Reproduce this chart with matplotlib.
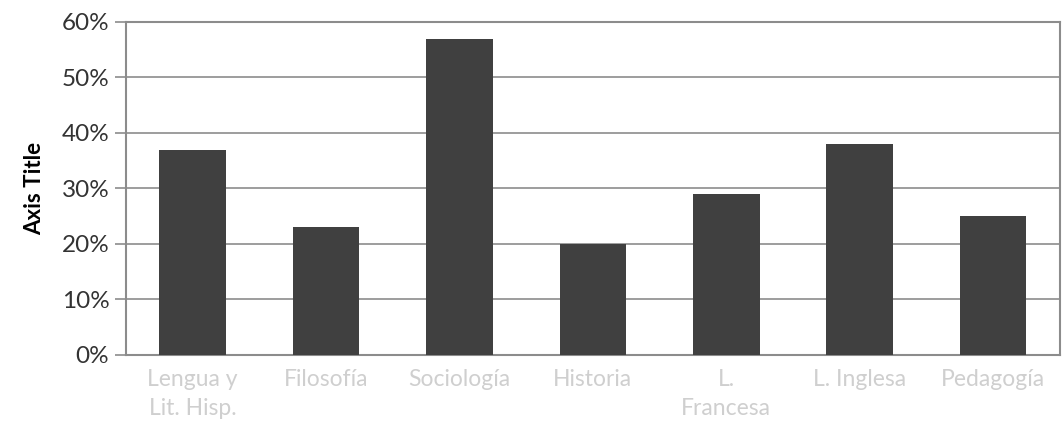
import numpy as np
import matplotlib
matplotlib.use("Agg")
import matplotlib.pyplot as plt
from matplotlib.ticker import PercentFormatter

categories = ["Lengua y\nLit. Hisp.", "Filosofía", "Sociología", "Historia",
              "L.\nFrancesa", "L. Inglesa", "Pedagogía"]
values = [37, 23, 57, 20, 29, 38, 25]

plt.rcParams['font.family'] = ['Lato', 'DejaVu Sans']

fig = plt.figure(figsize=(10.64, 4.44), dpi=100)
ax = fig.add_axes([0.1184, 0.2005, 0.8776, 0.75])

x = np.arange(len(categories))
ax.bar(x, values, width=0.5, color="#404040", zorder=3)

ax.set_xlim(-0.5, len(categories) - 0.5)
ax.set_ylim(0, 60)
ax.set_yticks(np.arange(0, 61, 10))
ax.yaxis.set_major_formatter(PercentFormatter(decimals=0))
ax.grid(axis="y", color="#8c8c8c", linewidth=1.2, zorder=0)

for s in ax.spines.values():
    s.set_color("#8c8c8c")
    s.set_linewidth(1.5)

ax.tick_params(axis="y", length=8, width=1.2, color="#8c8c8c",
               labelsize=17.5, labelcolor="#333333", pad=4)
ax.tick_params(axis="x", length=0, labelsize=16.5, labelcolor="#cfcfcf", pad=10)
ax.set_xticks(x)
ax.set_xticklabels(categories, linespacing=1.45, va="top")

ax.set_ylabel("Axis Title", fontsize=16, fontweight="bold", labelpad=12)

fig.savefig("out.png", dpi=100)
